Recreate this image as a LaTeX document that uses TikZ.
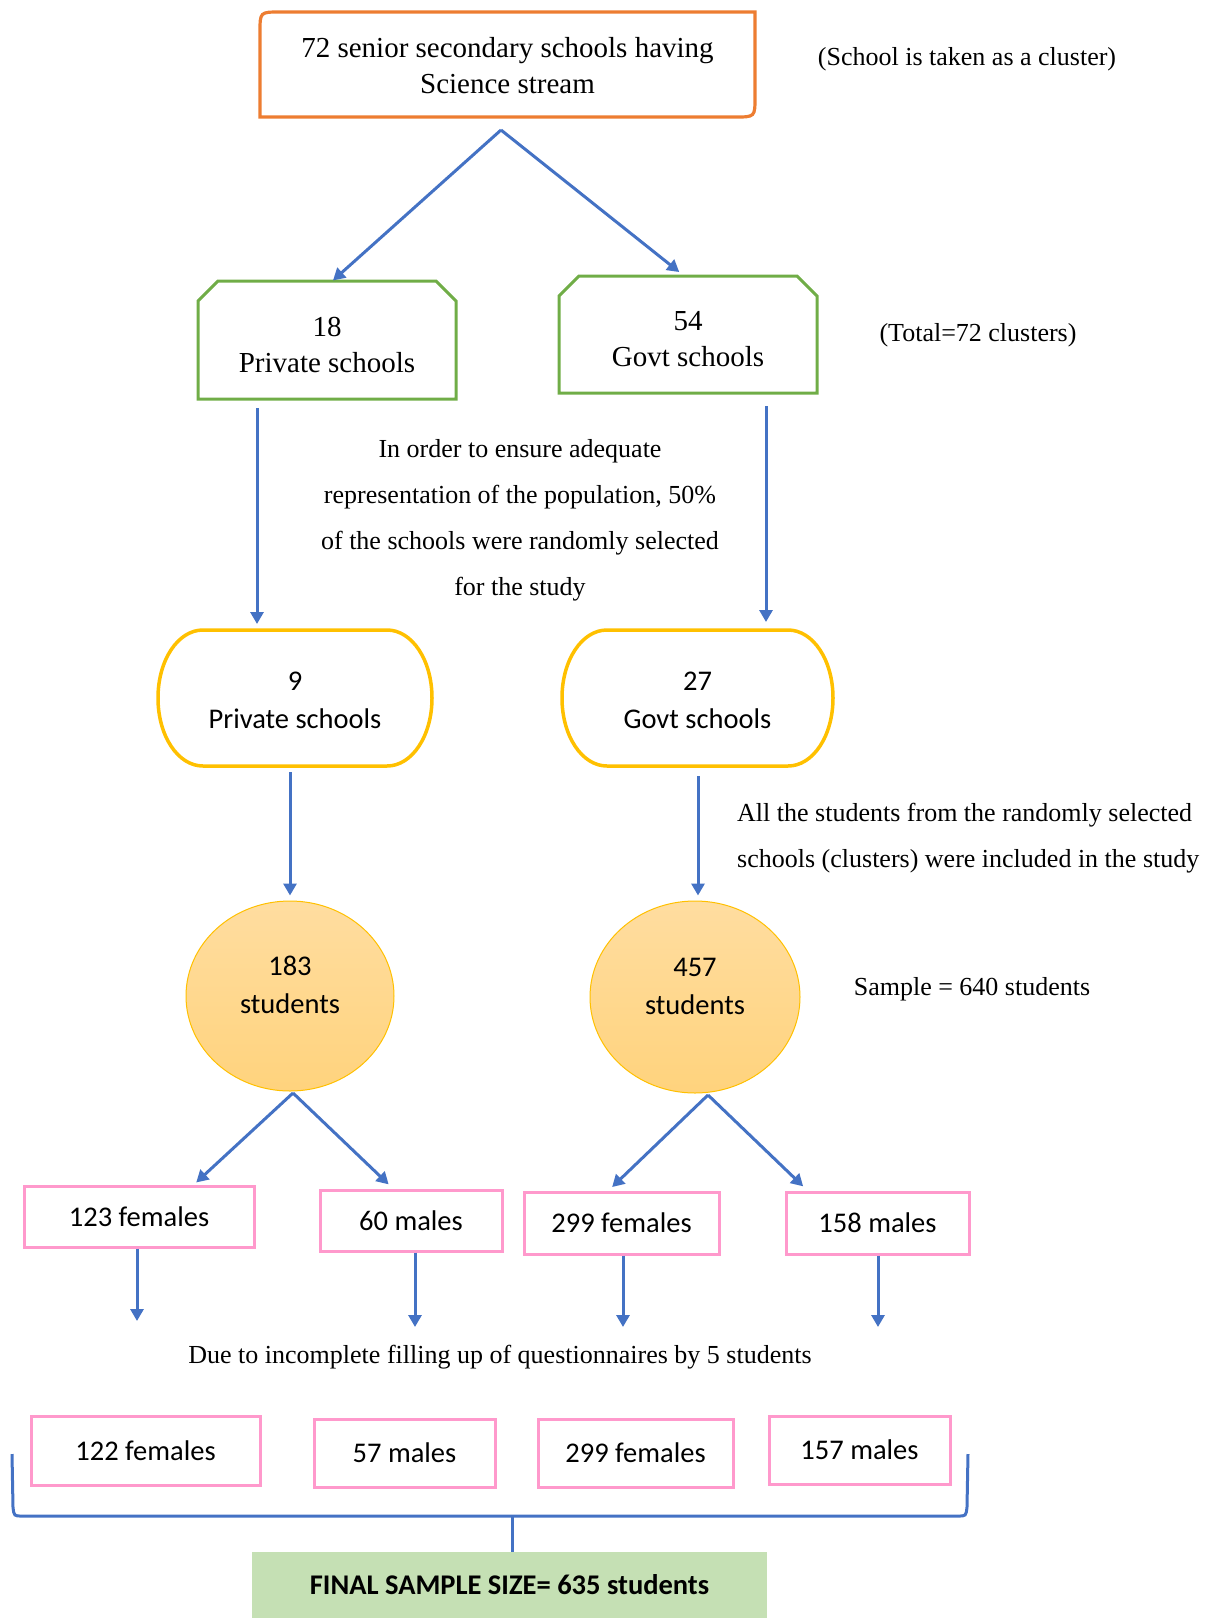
\documentclass[tikz,border=0pt]{standalone}
\usepackage{fontspec}
\setmainfont{Liberation Serif}
\newfontfamily\calib{Carlito}
\usetikzlibrary{arrows.meta,calc,shapes.geometric}
\definecolor{arrowblue}{HTML}{4472C4}
\definecolor{orangeb}{HTML}{ED7D31}
\definecolor{greenb}{HTML}{70AD47}
\definecolor{yellowb}{HTML}{FFC000}
\definecolor{pinkb}{HTML}{FF99CC}
\definecolor{finalg}{HTML}{C5E0B4}
\definecolor{circtop}{HTML}{FFDDA0}
\definecolor{circbot}{HTML}{FFD37D}
\tikzset{
  conn/.style={draw=arrowblue, line width=3pt, -{Triangle[length=12pt,width=13pt]}},
  plainline/.style={draw=arrowblue, line width=3pt},
  serifbox/.style={inner sep=0pt, align=center, font=\fontsize{29}{36}\selectfont},
  note/.style={inner sep=0pt, align=center, font=\fontsize{26}{46}\selectfont},
  calbox/.style={inner sep=0pt, align=center, font=\calib\fontsize{28.5}{38}\selectfont},
  pbox/.style={draw=pinkb, line width=3pt, inner sep=0pt, font=\calib\fontsize{28.5}{34}\selectfont},
  circ/.style={ellipse, draw=yellowb, line width=1pt, top color=circtop, bottom color=circbot, inner sep=0pt, align=center, font=\calib\fontsize{28.5}{38}\selectfont},
}
\begin{document}
\begin{tikzpicture}[x=1pt,y=-1pt]
\useasboundingbox (0,0) rectangle (1222,1618);
% ---------- top box ----------
\node[serifbox, minimum width=495pt, minimum height=105pt] (top) at (507.5,66) {72 senior secondary schools having\\Science stream};
\draw[orangeb, line width=3.2pt] (260,117) -- (260,32) .. controls (260,12) .. (280,12) -- (755,12) -- (755,97) .. controls (755,117) .. (735,117) -- cycle;
\node[note] (n1) at (967,59) {(School is taken as a cluster)};
% ---------- green boxes ----------
\node[serifbox, minimum width=258pt, minimum height=118pt] (g1) at (327,345) {18\\Private schools};
\draw[greenb, line width=3pt] (198,399) -- (198,301) -- (218,281) -- (436,281) -- (456,301) -- (456,399) -- cycle;
\node[serifbox, minimum width=258pt, minimum height=117pt] (g2) at (688,339.5) {54\\Govt schools};
\draw[greenb, line width=3pt] (559,393) -- (559,296) -- (579,276) -- (797,276) -- (817,296) -- (817,393) -- cycle;
\node[note] (n2) at (978,335) {(Total=72 clusters)};
\coordinate (split0) at (501,130);
\draw[conn, shorten >=8pt] (split0) -- (g1.north);
\draw[conn, shorten >=6pt] (split0) -- ($(g2.north)+(-4,-5)$);
% ---------- middle note ----------
\node[note] (n3) at (520,520) {In order to ensure adequate\\representation of the population, 50\%\\of the schools were randomly selected\\for the study};
% ---------- yellow boxes ----------
\node[calbox, minimum width=274pt, minimum height=136pt] (y1) at (295,700) {9\\Private schools};
\draw[yellowb, line width=3.5pt] (203,630) -- (387,630) .. controls (412,630) and (432,660) .. (432,698) .. controls (432,736) and (412,766) .. (387,766) -- (203,766) .. controls (178,766) and (158,736) .. (158,698) .. controls (158,660) and (178,630) .. (203,630) -- cycle;
\node[calbox, minimum width=271pt, minimum height=136pt] (y2) at (697.5,700) {27\\Govt schools};
\draw[yellowb, line width=3.5pt] (607,630) -- (788,630) .. controls (813,630) and (833,660) .. (833,698) .. controls (833,736) and (813,766) .. (788,766) -- (607,766) .. controls (582,766) and (562,736) .. (562,698) .. controls (562,660) and (582,630) .. (607,630) -- cycle;
\coordinate (g1out) at (257,408);
\coordinate (y1in) at (257,624);
\coordinate (g2out) at (766,406);
\coordinate (y2in) at (766,622);
\draw[conn] (g1out) -- (y1in);
\draw[conn] (g2out) -- (y2in);
% ---------- circles ----------
\node[circ, minimum width=208pt, minimum height=190pt] (c1) at (290,996) {183\\students\\[-16pt]};
\node[circ, minimum width=210pt, minimum height=192pt] (c2) at (695,997) {457\\students\\[-16pt]};
\draw[conn, shorten >=5pt] ($(y1.south)+(-5,4)$) -- (c1.north);
\draw[conn, shorten >=5pt] ($(y2.south)+(0.5,8)$) -- ($(c2.north)+(3,0)$);
\node[note, align=left, anchor=west] (n4) at (737,838) {All the students from the randomly selected\\schools (clusters) were included in the study};
\node[note] (n5) at (972,989) {Sample = 640 students};
% ---------- pink row 1 ----------
\node[pbox, minimum width=230pt, minimum height=61pt] (a1) at (139,1216.5) {123 females};
\node[pbox, minimum width=182pt, minimum height=61pt] (a2) at (411,1220.5) {60 males};
\node[pbox, minimum width=195pt, minimum height=62pt] (a3) at (621.5,1223) {299 females};
\node[pbox, minimum width=183pt, minimum height=62pt] (a4) at (877.5,1223) {158 males};
\coordinate (s1) at (293,1093);
\coordinate (s2) at (708,1095);
\draw[conn, shorten >=3pt] (s1) -- ($(a1.north)+(55,0)$);
\draw[conn, shorten >=6pt] (s1) -- ($(a2.north)+(-18,0)$);
\draw[conn, shorten >=5pt] (s2) -- ($(a3.north)+(-13,0)$);
\draw[conn, shorten >=6pt] (s2) -- ($(a4.north)+(-70,0)$);
\coordinate (d1) at (137,1321);
\coordinate (d2) at (415,1327);
\coordinate (d3) at (623,1327);
\coordinate (d4) at (878,1327);
\draw[conn] (a1.south -| d1) -- (d1);
\draw[conn] (a2.south -| d2) -- (d2);
\draw[conn] (a3.south -| d3) -- (d3);
\draw[conn] (a4.south -| d4) -- (d4);
\node[note] (n6) at (500,1357) {Due to incomplete filling up of questionnaires by 5 students};
% ---------- pink row 2 ----------
\node[pbox, minimum width=229pt, minimum height=69pt] (b1) at (145.5,1450.5) {122 females};
\node[pbox, minimum width=181pt, minimum height=68pt] (b2) at (404.5,1453) {57 males};
\node[pbox, minimum width=195pt, minimum height=68pt] (b3) at (635.5,1453) {299 females};
\node[pbox, minimum width=181pt, minimum height=68pt] (b4) at (859.5,1450) {157 males};
% ---------- brace ----------
\coordinate (bl) at (12,1454);
\coordinate (br) at (968,1454);
\coordinate (bm) at (512,1516);
\draw[plainline] (bl) -- (13,1507) .. controls (14,1516) .. (22,1516) -- (958,1516) .. controls (966,1516) .. (967,1507) -- (br);
% ---------- final ----------
\node[fill=finalg, minimum width=515pt, minimum height=70pt, inner sep=0pt, font=\calib\bfseries\fontsize{28.5}{34}\selectfont] (fin) at (509.5,1587) {\raisebox{5pt}{FINAL SAMPLE SIZE= 635 students}};
\draw[plainline] (bm) -- (fin.north -| bm);
\end{tikzpicture}
\end{document}
